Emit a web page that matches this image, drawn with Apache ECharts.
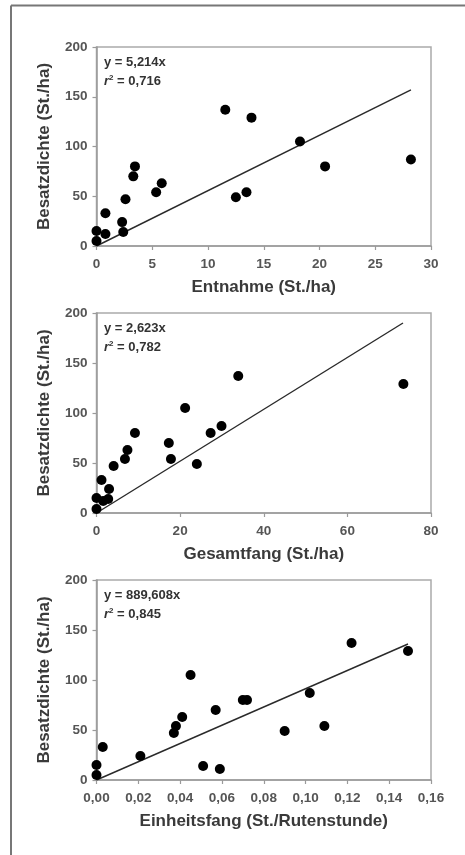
<!DOCTYPE html>
<html>
<head>
<meta charset="utf-8">
<script src="https://cdn.jsdelivr.net/npm/echarts@6/dist/echarts.min.js"></script>
<style>
html,body{margin:0;padding:0;background:#fff;}
#chart{width:465px;height:855px;}
</style>
</head>
<body>
<div id="chart"></div>
<script>
// ---- Data ----
var besatzY1 = [15, 5, 33, 12, 24, 14, 47, 70, 80, 54, 63, 137, 129, 49, 54, 105, 80, 87];
var entnahmeX = [0, 0, 0.8, 0.8, 2.3, 2.4, 2.6, 3.3, 3.45, 5.35, 5.85, 11.55, 13.9, 12.5, 13.45, 18.25, 20.5, 28.2];

var besatzY2 = [15, 4, 33, 12, 14, 24, 47, 54, 63, 80, 70, 54, 105, 49, 80, 87, 137, 129];
var gesamtfangX = [0, 0, 1.2, 1.6, 2.8, 3.0, 4.1, 6.8, 7.4, 9.2, 17.3, 17.8, 21.2, 24.0, 27.3, 29.9, 33.9, 73.4];

var besatzY3 = [15, 5, 33, 24, 47, 54, 63, 105, 14, 70, 11, 80, 80, 49, 87, 54, 137, 129];
var einheitsfangX = [0, 0, 0.003, 0.021, 0.037, 0.038, 0.041, 0.045, 0.051, 0.057, 0.059, 0.070, 0.072, 0.090, 0.102, 0.109, 0.122, 0.149];

// regression lines through origin (start and end as drawn)
var fitX1 = [0, 28.2],  fitY1 = [0, 157];
var fitX2 = [0, 73.3],  fitY2 = [0, 190];
var fitX3 = [0, 0.149], fitY3 = [0, 136];

var xTitles = ['Entnahme (St./ha)', 'Gesamtfang (St./ha)', 'Einheitsfang (St./Rutenstunde)'];
var yTitle = 'Besatzdichte (St./ha)';
var eqTexts = ['y = 5,214x', 'y = 2,623x', 'y = 889,608x'];
var r2Texts = ['0,716', '0,782', '0,845'];

var xMax = [30, 80, 0.16];
var xInterval = [5, 20, 0.02];
var xDecimals = [0, 0, 2];
var yTicks = [0, 50, 100, 150, 200];

// ---- Layout ----
var FONT = "'Liberation Sans', Arial, sans-serif";
var gridTops = [47, 313, 580];
var gridH = [199, 200, 200];
var GRID_LEFT = 96.5, GRID_RIGHT = 34;
var axisGray = '#9a9a9a';
var labelGray = '#555555';

function zip(a, b) { return a.map(function (v, i) { return [v, b[i]]; }); }

var pointsSets = [zip(entnahmeX, besatzY1), zip(gesamtfangX, besatzY2), zip(einheitsfangX, besatzY3)];
var fitSets = [zip(fitX1, fitY1), zip(fitX2, fitY2), zip(fitX3, fitY3)];

var grids = [], xAxes = [], yAxes = [], series = [], graphics = [];

for (var i = 0; i < 3; i++) {
  grids.push({
    left: GRID_LEFT, right: GRID_RIGHT, top: gridTops[i], height: gridH[i],
    show: true, borderColor: '#aaaaaa', borderWidth: 1.5, backgroundColor: 'transparent'
  });
  (function (dec) {
    xAxes.push({
      type: 'value', gridIndex: i, min: 0, max: xMax[i], interval: xInterval[i],
      name: xTitles[i], nameLocation: 'middle', nameGap: 33,
      nameTextStyle: { fontFamily: FONT, fontSize: 17, fontWeight: 'bold', color: '#3a3a3a', verticalAlign: 'top' },
      axisLine: { show: true, lineStyle: { color: axisGray, width: 1.5 } },
      axisTick: { show: true, inside: false, length: 4, lineStyle: { color: axisGray, width: 1.2 } },
      axisLabel: {
        margin: 11, fontFamily: FONT, fontSize: 13.5, fontWeight: 'bold', color: labelGray,
        formatter: function (v) { return v.toFixed(dec).replace('.', ','); }
      },
      splitLine: { show: false }
    });
  })(xDecimals[i]);
  yAxes.push({
    type: 'value', gridIndex: i, min: yTicks[0], max: yTicks[yTicks.length - 1], interval: yTicks[1] - yTicks[0],
    name: yTitle, nameLocation: 'middle', nameGap: 44,
    nameTextStyle: { fontFamily: FONT, fontSize: 17, fontWeight: 'bold', color: '#3a3a3a' },
    axisLine: { show: true, lineStyle: { color: axisGray, width: 1.5 } },
    axisTick: { show: true, inside: false, length: 4, lineStyle: { color: axisGray, width: 1.2 } },
    axisLabel: { margin: 9, fontFamily: FONT, fontSize: 13.5, fontWeight: 'bold', color: labelGray },
    splitLine: { show: false }
  });
  series.push({
    type: 'line', xAxisIndex: i, yAxisIndex: i, data: fitSets[i],
    symbol: 'none', lineStyle: { color: '#2a2a2a', width: 1.4 }, z: 2, silent: true
  });
  series.push({
    type: 'scatter', xAxisIndex: i, yAxisIndex: i, data: pointsSets[i],
    symbol: 'circle', symbolSize: 10, itemStyle: { color: '#000', opacity: 1 }, z: 3
  });
  graphics.push({
    type: 'text', left: 104, top: gridTops[i] + 9,
    style: { text: eqTexts[i], font: 'bold 13px ' + FONT, fill: '#333' }
  });
  graphics.push({
    type: 'text', left: 104, top: gridTops[i] + 27,
    style: {
      text: '{i|r}{s|2}{n| = ' + r2Texts[i] + '}',
      rich: {
        i: { fontFamily: FONT, fontSize: 13, fontWeight: 'bold', fontStyle: 'italic', fill: '#333', color: '#333' },
        s: { fontFamily: FONT, fontSize: 8, fontWeight: 'bold', fill: '#333', color: '#333', verticalAlign: 'top', padding: [0, 0, 6, 0] },
        n: { fontFamily: FONT, fontSize: 13, fontWeight: 'bold', fill: '#333', color: '#333' }
      }
    }
  });
}

// outer frame (top and left edges visible)
graphics.push({ type: 'line', shape: { x1: 11, y1: 5.5, x2: 465, y2: 5.5 }, style: { stroke: '#777', lineWidth: 2 } });
graphics.push({ type: 'line', shape: { x1: 11, y1: 5.5, x2: 11, y2: 855 }, style: { stroke: '#777', lineWidth: 2 } });

var chart = echarts.init(document.getElementById('chart'), null, { renderer: 'canvas' });
chart.setOption({
  animation: false,
  backgroundColor: '#fff',
  grid: grids,
  xAxis: xAxes,
  yAxis: yAxes,
  series: series,
  graphic: graphics
});
</script>
</body>
</html>
